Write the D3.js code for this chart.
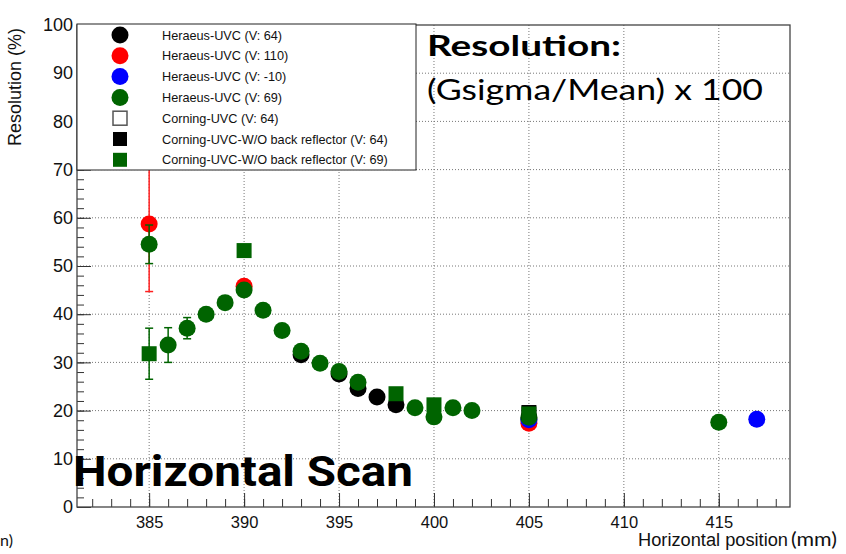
<!DOCTYPE html>
<html>
<head>
<meta charset="utf-8">
<script src="https://cdn.jsdelivr.net/npm/d3@7"></script>
<style>
  body { margin: 0; background: #fff; }
  svg { display: block; }
</style>
</head>
<body>
<div id="chart"></div>
<script>
// data
const blackCircX = [393, 395, 396, 397, 398, 405];
const blackCircY = [31.6, 27.6, 24.6, 22.8, 21.2, 18.3];

const redCircX = [385, 390, 405];
const redCircY = [58.7, 45.8, 17.4];
const redCircErr = [14, 0, 0];

const blueCircX = [405, 417];
const blueCircY = [18.1, 18.2];

const greenCircX = [385, 386, 387, 388, 389, 390, 391, 392, 393, 394, 395, 396, 399, 400, 401, 402, 405, 415];
const greenCircY = [54.5, 33.6, 37.1, 40.0, 42.4, 45.0, 40.8, 36.6, 32.3, 29.8, 28.1, 25.9, 20.6, 18.7, 20.6, 20.0, 18.6, 17.6];
const greenCircErr = [4, 3.6, 2.2, 0, 0, 0, 0, 0, 0, 0, 0, 0, 0, 0, 0, 0, 0, 0];

const openSqX = [];
const openSqY = [];

const blackSqX = [405];
const blackSqY = [19.6];

const greenSqX = [385, 390, 398, 400, 405];
const greenSqY = [31.8, 53.2, 23.5, 21.2, 19.3];
const greenSqErr = [5.3, 0, 0, 0, 0];

const xTicks = [385, 390, 395, 400, 405, 410, 415];
const yTicks = [0, 10, 20, 30, 40, 50, 60, 70, 80, 90, 100];

const legendLabels = [
  "Heraeus-UVC (V: 64)",
  "Heraeus-UVC (V: 110)",
  "Heraeus-UVC (V: -10)",
  "Heraeus-UVC (V: 69)",
  "Corning-UVC (V: 64)",
  "Corning-UVC-W/O back reflector (V: 64)",
  "Corning-UVC-W/O back reflector (V: 69)"
];

const GREEN = "#006400";

const svgWidth = 846, svgHeight = 554;
const plotL = 77, plotR = 790, plotT = 25, plotB = 507;

const svg = d3.select("#chart").append("svg")
  .attr("width", svgWidth)
  .attr("height", svgHeight)
  .style("font-family", "'Liberation Sans', Arial, sans-serif");

const x = d3.scaleLinear().domain([381.2, 418.75]).range([plotL, plotR]);
const y = d3.scaleLinear().domain([0, 100]).range([plotB, plotT]);

// grid (dotted)
const grid = svg.append("g").attr("stroke", "#777").attr("stroke-dasharray", "1,2").attr("stroke-width", 1);
grid.selectAll(".gx").data(xTicks).enter().append("line")
  .attr("x1", d => x(d)).attr("x2", d => x(d)).attr("y1", plotT).attr("y2", plotB);
grid.selectAll(".gy").data(yTicks.filter(d => d > 0 && d < 100)).enter().append("line")
  .attr("x1", plotL).attr("x2", plotR).attr("y1", d => y(d)).attr("y2", d => y(d));

// axes, ticks pointing inwards like ROOT
const xMinor = d3.range(382, 419, 1);
const yMinor = d3.range(0, 101, 2);

svg.append("g")
  .attr("transform", `translate(0,${plotB})`)
  .call(d3.axisBottom(x).tickValues(xMinor).tickSize(-8).tickFormat(""))
  .call(g => g.select(".domain").remove());
svg.append("g")
  .attr("transform", `translate(0,${plotB})`)
  .call(d3.axisBottom(x).tickValues(xTicks).tickSize(-14).tickPadding(21).tickFormat(d3.format("d")))
  .call(g => g.select(".domain").remove())
  .call(g => g.selectAll("text").attr("font-size", 16.5).attr("fill", "#111").attr("dy", "0"));

svg.append("g")
  .attr("transform", `translate(${plotL},0)`)
  .call(d3.axisLeft(y).tickValues(yMinor).tickSize(-7).tickFormat(""))
  .call(g => g.select(".domain").remove());
svg.append("g")
  .attr("transform", `translate(${plotL},0)`)
  .call(d3.axisLeft(y).tickValues(yTicks).tickSize(-14).tickPadding(4).tickFormat(d3.format("d")))
  .call(g => g.select(".domain").remove())
  .call(g => g.selectAll("text").attr("font-size", 18).attr("fill", "#111"));

svg.selectAll(".tick line").attr("stroke", "#333");

// frame
svg.append("rect")
  .attr("x", plotL).attr("y", plotT)
  .attr("width", plotR - plotL).attr("height", plotB - plotT)
  .attr("fill", "none").attr("stroke", "#444").attr("stroke-width", 1.3);

// text on the plot
svg.append("text")
  .attr("x", 427).attr("y", 56)
  .attr("font-family", "Lato, 'Open Sans', sans-serif")
  .attr("font-weight", "bold").attr("font-size", 29)
  .attr("textLength", 194).attr("lengthAdjust", "spacingAndGlyphs")
  .text("Resolution:");
svg.append("text")
  .attr("x", 427).attr("y", 100)
  .attr("font-family", "Lato, 'Open Sans', sans-serif")
  .attr("font-size", 29)
  .attr("textLength", 336).attr("lengthAdjust", "spacingAndGlyphs")
  .text("(Gsigma/Mean) x 100");

// series drawing
function errorBars(xs, ys, errs, color) {
  const g = svg.append("g").attr("stroke", color).attr("stroke-width", 1.5);
  xs.forEach((xv, i) => {
    const e = errs[i];
    if (!e) return;
    g.append("line").attr("x1", x(xv)).attr("x2", x(xv)).attr("y1", y(ys[i] - e)).attr("y2", y(ys[i] + e));
    g.append("line").attr("x1", x(xv) - 4).attr("x2", x(xv) + 4).attr("y1", y(ys[i] - e)).attr("y2", y(ys[i] - e));
    g.append("line").attr("x1", x(xv) - 4).attr("x2", x(xv) + 4).attr("y1", y(ys[i] + e)).attr("y2", y(ys[i] + e));
  });
}
function circles(xs, ys, color) {
  svg.append("g").selectAll("circle")
    .data(xs.map((d, i) => [d, ys[i]]))
    .enter().append("circle")
    .attr("cx", d => x(d[0])).attr("cy", d => y(d[1]))
    .attr("r", 8.5).attr("fill", color);
}
function squares(xs, ys, color, stroke) {
  svg.append("g").selectAll("rect")
    .data(xs.map((d, i) => [d, ys[i]]))
    .enter().append("rect")
    .attr("x", d => x(d[0]) - 7.5).attr("y", d => y(d[1]) - 7.5)
    .attr("width", 15).attr("height", 15)
    .attr("fill", color).attr("stroke", stroke || "none");
}

circles(blackCircX, blackCircY, "#000");
errorBars(redCircX, redCircY, redCircErr, "#ff2020");
circles(redCircX, redCircY, "#ff0000");
circles(blueCircX, blueCircY, "#0000ff");
errorBars(greenCircX, greenCircY, greenCircErr, GREEN);
circles(greenCircX, greenCircY, GREEN);
squares(openSqX, openSqY, "#fff", "#555");
squares(blackSqX, blackSqY, "#000");
errorBars(greenSqX, greenSqY, greenSqErr, GREEN);
squares(greenSqX, greenSqY, GREEN);

// legend
const legend = svg.append("g");
legend.append("rect")
  .attr("x", plotL).attr("y", plotT - 1).attr("width", 339).attr("height", 146)
  .attr("fill", "#fff").attr("stroke", "#222").attr("stroke-width", 1);
const legColors = ["#000", "#ff0000", "#0000ff", GREEN, "#fff", "#000", GREEN];
legendLabels.forEach((lab, i) => {
  const ly = 35 + i * 20.8;
  if (i < 4) {
    legend.append("circle").attr("cx", 120).attr("cy", ly).attr("r", 8.5).attr("fill", legColors[i]);
  } else {
    legend.append("rect").attr("x", 113).attr("y", ly - 7).attr("width", 14).attr("height", 14)
      .attr("fill", legColors[i]).attr("stroke", i == 4 ? "#555" : "none").attr("stroke-width", 1.5);
  }
  legend.append("text").attr("x", 162).attr("y", ly + 4.5)
    .attr("font-size", 12.7).attr("fill", "#111").text(lab);
});

// axis titles
svg.append("text")
  .attr("transform", "translate(21,87) rotate(-90)")
  .attr("text-anchor", "middle").attr("font-size", 18).attr("fill", "#111")
  .text("Resolution (%)");
svg.append("text")
  .attr("x", 638).attr("y", 546)
  .attr("font-size", 18).attr("fill", "#111")
  .attr("textLength", 150).attr("lengthAdjust", "spacingAndGlyphs")
  .text("Horizontal position");
svg.append("text")
  .attr("x", 791).attr("y", 546)
  .attr("font-family", "Lato, sans-serif").attr("font-size", 19).attr("fill", "#111")
  .attr("textLength", 46).attr("lengthAdjust", "spacingAndGlyphs")
  .text("(mm)");
svg.append("text")
  .attr("x", 0).attr("y", 546)
  .attr("font-family", "Lato, sans-serif").attr("font-size", 16).attr("fill", "#111")
  .text("n)");

svg.append("text")
  .attr("x", 73).attr("y", 486)
  .attr("font-family", "Roboto, 'Liberation Sans', sans-serif")
  .attr("font-weight", "bold").attr("font-size", 43)
  .attr("textLength", 340).attr("lengthAdjust", "spacingAndGlyphs")
  .text("Horizontal Scan");
</script>
</body>
</html>
